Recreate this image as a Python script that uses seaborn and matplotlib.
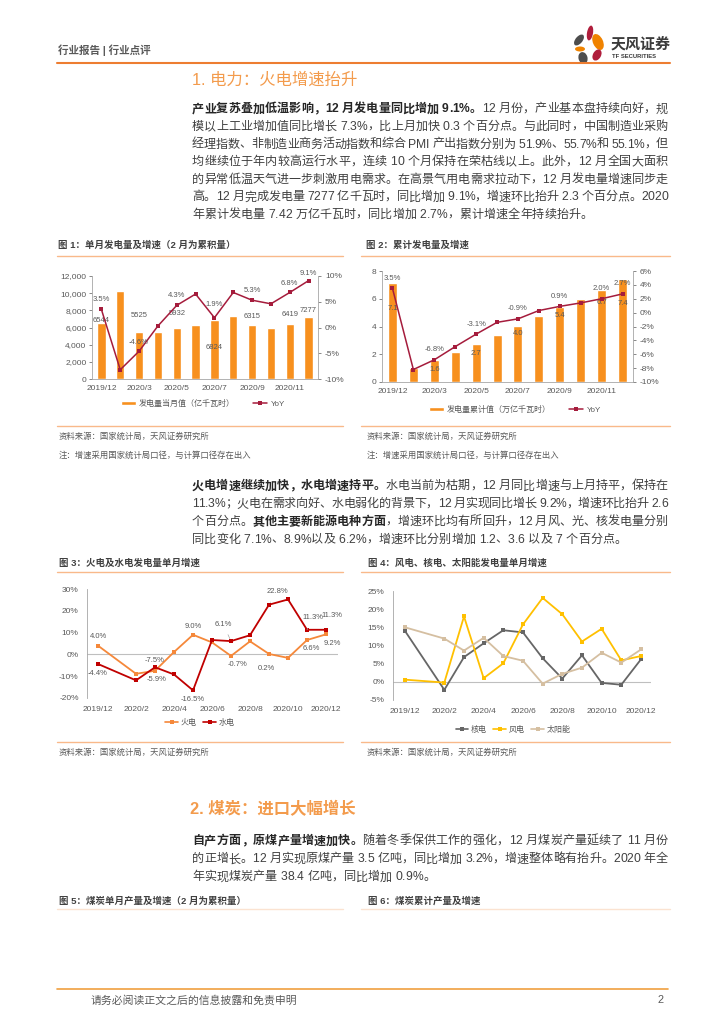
import matplotlib
matplotlib.use('Agg')
import matplotlib.pyplot as plt
from matplotlib.patches import Patch, Ellipse
from matplotlib.lines import Line2D
from matplotlib.font_manager import FontProperties
import numpy as np
import pandas as pd
import seaborn as sns

# ---------------- data ----------------
months_a = ['2019/12', '2020/2', '2020/3', '2020/4', '2020/5', '2020/6',
            '2020/7', '2020/8', '2020/9', '2020/10', '2020/11', '2020/12']
gen_month = [6544, 10302, 5525, 5501, 5932, 6259, 6824, 7294, 6315, 5976, 6419, 7277]
gen_month_yoy = [3.5, -8.2, -4.6, 0.3, 4.3, 6.5, 1.9, 6.8, 5.3, 4.6, 6.8, 9.1]
gen_cum = [7.14, 1.03, 1.58, 2.13, 2.73, 3.36, 4.04, 4.77, 5.41, 6.01, 6.66, 7.42]
gen_cum_yoy = [3.5, -8.2, -6.8, -4.9, -3.1, -1.4, -0.9, 0.3, 0.9, 1.4, 2.0, 2.7]
ticks_a = ['2019/12', '2020/3', '2020/5', '2020/7', '2020/9', '2020/11']

thermal = [4.0, -8.9, -7.5, 1.1, 9.0, 5.5, -0.7, 6.0, 0.2, -1.6, 6.6, 9.2]
hydro = [-4.4, -11.9, -5.9, -9.2, -16.5, 6.6, 6.1, 8.8, 22.8, 25.2, 11.3, 11.3]
nuclear = [14.0, -2.2, 6.8, 10.6, 14.2, 13.6, 6.5, 0.9, 7.3, -0.3, -0.8, 6.2]
wind = [0.6, -0.2, 18.0, 1.0, 5.1, 15.8, 23.1, 18.6, 11.1, 14.6, 5.9, 7.1]
solar = [15.0, 11.9, 8.6, 12.1, 7.1, 5.8, -0.5, 2.2, 3.9, 8.0, 5.3, 8.9]
ticks_b = ['2019/12', '2020/2', '2020/4', '2020/6', '2020/8', '2020/10', '2020/12']

# ---------------- style ----------------
W, H = 724, 1024
FAM = ['Liberation Sans', 'Noto Sans CJK SC', 'DejaVu Sans']
sns.set_style('white')
plt.rcParams['font.family'] = FAM
plt.rcParams['axes.unicode_minus'] = False

BAR = '#F7901E'
RED = '#A51C3C'
THERMAL = '#F5883A'
HYDRO = '#C00000'
GRAY = '#595959'
SPINE = '#A6A6A6'
LINE_OR = '#F9B98A'

fig = plt.figure(figsize=(7.24, 10.24), dpi=100)
renderer = fig.canvas.get_renderer()


def add_ax(x0, y0, x1, y1):
    return fig.add_axes([x0 / W, 1 - y1 / H, (x1 - x0) / W, (y1 - y0) / H])


def ftext(x, y, s, **kw):
    kw.setdefault('va', 'center')
    return fig.text(x / W, 1 - y / H, s, **kw)


def hline(x0, x1, y, color, lw=1.0):
    fig.add_artist(Line2D([x0 / W, x1 / W], [1 - y / H, 1 - y / H], color=color, lw=lw))


_adv = {}


def adv(ch, fp):
    key = (ch, fp.get_weight(), fp.get_size())
    if key not in _adv:
        w1 = renderer.get_text_width_height_descent('H' + ch + 'H', fp, ismath=False)[0]
        w0 = renderer.get_text_width_height_descent('HH', fp, ismath=False)[0]
        _adv[key] = w1 - w0
    return _adv[key]


def draw_line(x0, y, runs, right=None, size=8.7):
    fps = {False: FontProperties(family=FAM, size=size),
           True: FontProperties(family=FAM, size=size, weight='bold')}
    items = [(ch, b) for txt, b in runs for ch in txt]
    advs = [adv(ch, fps[b]) for ch, b in items]
    gap = 0
    if right is not None and len(items) > 1:
        gap = (right - x0 - sum(advs)) / (len(items) - 1)
    x = x0
    yb = 1 - (y + 4.3) / H
    for (ch, b), a in zip(items, advs):
        col = '#262626' if b else '#404040'
        if ch != ' ':
            if ch in '，。、；：':
                fig.text(x / W, yb, ch, fontproperties=fps[b], color=col, ha='left', va='baseline')
            else:
                fig.text((x + a / 2) / W, yb, ch, fontproperties=fps[b], color=col,
                         ha='center', va='baseline')
        x += a + gap


def draw_par(x0, y0, step, lines, right=668):
    for k, runs in enumerate(lines):
        last = k == len(lines) - 1
        draw_line(x0, y0 + k * step, runs, None if last else right)


def month_pos(m):
    return (int(m[:4]) - 2019) * 12 + int(m[5:]) - 12


def style_ax(ax, left=True, right=False, bottom=True):
    for s in ax.spines.values():
        s.set_visible(False)
    for name, on in (('left', left), ('right', right), ('bottom', bottom)):
        if on:
            ax.spines[name].set_visible(True)
            ax.spines[name].set_color(SPINE)
            ax.spines[name].set_linewidth(0.6)
    ax.tick_params(axis='both', labelsize=6, colors=GRAY, length=2, width=0.5, pad=2)
    ax.tick_params(axis='x', length=0, pad=4)
    ax.set_xlabel('')
    ax.set_ylabel('')
    ax.set_facecolor('none')


# ---------------- header ----------------
ftext(58, 50, '行业报告 | 行业点评', fontsize=7.6, color=GRAY, fontweight='bold')
hline(57, 670, 63, '#ED7D31', 1.5)
logo = add_ax(570, 25, 608, 65)
logo.set_xlim(570, 608)
logo.set_ylim(65, 25)
logo.axis('off')
for cx, cy, w, h, ang, c in [(590, 33, 6, 15, 10, '#B01E3C'), (579, 40, 7, 13, 40, '#4D4D4D'),
                             (598, 42, 10, 17, -25, '#F08300'), (580, 49, 10, 5, 0, '#F08300'),
                             (597, 55, 8, 12, 30, '#B01E3C'), (583, 58, 9, 12, -15, '#4D4D4D')]:
    logo.add_patch(Ellipse((cx, cy), w, h, angle=ang, color=c, lw=0))
ftext(611, 44, '天风证券', fontsize=10.8, fontweight='bold', color='#3A3A3A')
ftext(612, 57, 'TF SECURITIES', fontsize=4.2, fontweight='bold', color='#3A3A3A')

# ---------------- section 1 text ----------------
ftext(192, 80, '1. 电力：火电增速抬升', fontsize=11.8, color='#F39B4C')
par1 = [
    [('产业复苏叠加低温影响，12 月发电量同比增加 9.1%。', True), ('12 月份，产业基本盘持续向好，规', False)],
    [('模以上工业增加值同比增长 7.3%，比上月加快 0.3 个百分点。与此同时，中国制造业采购', False)],
    [('经理指数、非制造业商务活动指数和综合 PMI 产出指数分别为 51.9%、55.7%和 55.1%，但', False)],
    [('均继续位于年内较高运行水平，连续 10 个月保持在荣枯线以上。此外，12 月全国大面积', False)],
    [('的异常低温天气进一步刺激用电需求。在高景气用电需求拉动下，12 月发电量增速同步走', False)],
    [('高。12 月完成发电量 7277 亿千瓦时，同比增加 9.1%，增速环比抬升 2.3 个百分点。2020', False)],
    [('年累计发电量 7.42 万亿千瓦时，同比增加 2.7%，累计增速全年持续抬升。', False)],
]
draw_par(192, 108, 17.6, par1)

# figure titles
TITLE_KW = dict(fontsize=6.8, fontweight='bold', color='#404040')
ftext(58, 245, '图 1：单月发电量及增速（2 月为累积量）', **TITLE_KW)
ftext(366, 245, '图 2：累计发电量及增速', **TITLE_KW)
hline(57, 343, 256, LINE_OR)
hline(361, 670, 256, LINE_OR)

# ---------------- chart 1 ----------------
df1 = pd.DataFrame({'month': months_a, 'gen': gen_month, 'yoy': gen_month_yoy})
ax1 = add_ax(92, 276, 318, 379)
sns.barplot(data=df1, x='month', y='gen', color=BAR, saturation=1, width=0.45,
            errorbar=None, ax=ax1)
ax1.set_xlim(-0.5, 11.5)
ax1.set_ylim(0, 12000)
ax1.set_yticks(range(0, 12001, 2000))
ax1.set_yticklabels([f'{v:,}' for v in range(0, 12001, 2000)])
ax1.set_xticks([months_a.index(t) for t in ticks_a])
ax1.set_xticklabels(ticks_a)
style_ax(ax1)
ax1r = ax1.twinx()
sns.lineplot(x=np.arange(len(months_a)), y=df1['yoy'], ax=ax1r, color=RED, marker='s',
             markersize=3.3, markeredgewidth=0, linewidth=1.1)
ax1r.set_ylim(-10, 10)
ax1r.set_yticks(range(-10, 11, 5))
ax1r.set_yticklabels([f'{v}%' for v in range(-10, 11, 5)])
ax1r.set_xlim(-0.5, 11.5)
style_ax(ax1r, left=False, right=True, bottom=False)
ax1r.tick_params(axis='y', pad=3)

bar_off1 = {0: 2, 2: 16, 4: 15, 6: -27, 8: 8, 10: 9, 11: 6}
for i, dy in bar_off1.items():
    ax1.annotate(f'{gen_month[i]}', (i, gen_month[i]), xytext=(0, dy), textcoords='offset pixels',
                 ha='center', va='center', fontsize=5.5, color=GRAY)
yoy_off1 = {0: 10, 2: 9, 4: 10, 6: 13, 8: 10, 10: 9, 11: 7}
for i, dy in yoy_off1.items():
    ax1r.annotate(f'{gen_month_yoy[i]:.1f}%', (i, gen_month_yoy[i]), xytext=(0, dy),
                  textcoords='offset pixels', ha='center', va='center', fontsize=5.5, color=GRAY)

fig.legend(handles=[Patch(fc=BAR, label='发电量当月值（亿千瓦时）'),
                    Line2D([], [], color=RED, marker='s', ms=3, mew=0, lw=1.1, label='YoY')],
           loc='center', bbox_to_anchor=(203 / W, 1 - 404 / H), ncol=2, frameon=False,
           fontsize=5.8, handlelength=1.8, handleheight=0.5, columnspacing=2.2,
           handletextpad=0.4, labelcolor=GRAY)

# ---------------- chart 2 ----------------
df2 = pd.DataFrame({'month': months_a, 'cum': gen_cum, 'yoy': gen_cum_yoy})
ax2 = add_ax(382, 271, 633, 382)
sns.barplot(data=df2, x='month', y='cum', color=BAR, saturation=1, width=0.43,
            errorbar=None, ax=ax2)
ax2.set_xlim(-0.5, 11.5)
ax2.set_ylim(0, 8)
ax2.set_yticks(range(0, 9, 2))
ax2.set_xticks([months_a.index(t) for t in ticks_a])
ax2.set_xticklabels(ticks_a)
style_ax(ax2)
ax2r = ax2.twinx()
sns.lineplot(x=np.arange(len(months_a)), y=df2['yoy'], ax=ax2r, color=RED, marker='s',
             markersize=3.3, markeredgewidth=0, linewidth=1.1)
ax2r.set_ylim(-10, 6)
ax2r.set_yticks(range(-10, 7, 2))
ax2r.set_yticklabels([f'{v}%' for v in range(-10, 7, 2)])
ax2r.set_xlim(-0.5, 11.5)
style_ax(ax2r, left=False, right=True, bottom=False)
ax2r.tick_params(axis='y', pad=3)

bar_off2 = {0: -26, 2: -9, 4: -9.5, 6: -7.5, 8: -9, 10: -13, 11: -24}
for i, dy in bar_off2.items():
    ax2.annotate(f'{gen_cum[i]:.1f}', (i, gen_cum[i]), xytext=(0, dy), textcoords='offset pixels',
                 ha='center', va='center', fontsize=5.5, color=GRAY)
for i in (0, 2, 4, 6, 8, 10, 11):
    ax2r.annotate(f'{gen_cum_yoy[i]:.1f}%', (i, gen_cum_yoy[i]), xytext=(0, 10),
                  textcoords='offset pixels', ha='center', va='center', fontsize=5.5, color=GRAY)

fig.legend(handles=[Patch(fc=BAR, label='发电量累计值（万亿千瓦时）'),
                    Line2D([], [], color=RED, marker='s', ms=3, mew=0, lw=1.1, label='YoY')],
           loc='center', bbox_to_anchor=(515 / W, 1 - 410 / H), ncol=2, frameon=False,
           fontsize=5.8, handlelength=1.8, handleheight=0.5, columnspacing=2.2,
           handletextpad=0.4, labelcolor=GRAY)

# sources
SRC_KW = dict(fontsize=6, color=GRAY)
hline(57, 343, 426, LINE_OR)
hline(361, 670, 426, LINE_OR)
for x in (59, 367):
    ftext(x, 437, '资料来源：国家统计局，天风证券研究所', **SRC_KW)
    ftext(x, 456, '注：增速采用国家统计局口径，与计算口径存在出入', **SRC_KW)

# ---------------- paragraph 2 ----------------
par2 = [
    [('火电增速继续加快，水电增速持平。', True), ('水电当前为枯期，12 月同比增速与上月持平，保持在', False)],
    [('11.3%；火电在需求向好、水电弱化的背景下，12 月实现同比增长 9.2%，增速环比抬升 2.6', False)],
    [('个百分点。', False), ('其他主要新能源电种方面', True), ('，增速环比均有所回升，12 月风、光、核发电量分别', False)],
    [('同比变化 7.1%、8.9%以及 6.2%，增速环比分别增加 1.2、3.6 以及 7 个百分点。', False)],
]
draw_par(192, 485, 17.8, par2)

ftext(59, 563, '图 3：火电及水电发电量单月增速', **TITLE_KW)
ftext(368, 563, '图 4：风电、核电、太阳能发电量单月增速', **TITLE_KW)
hline(57, 343, 572, LINE_OR)
hline(361, 670, 572, LINE_OR)

pos_b = [month_pos(m) for m in months_a]

# ---------------- chart 3 ----------------
df3 = pd.DataFrame({'pos': pos_b * 2, 'val': thermal + hydro,
                    'series': ['火电'] * len(pos_b) + ['水电'] * len(pos_b)})
ax3 = add_ax(87, 589, 338, 698)
sns.lineplot(data=df3, x='pos', y='val', hue='series', palette={'火电': THERMAL, '水电': HYDRO},
             marker='s', markersize=3.5, markeredgewidth=0, linewidth=1.3, legend=False, ax=ax3)
ax3.axhline(0, color='#BFBFBF', lw=0.8, zorder=0)
ax3.set_xlim(-0.58, 12.63)
ax3.set_ylim(-20, 30)
ax3.set_yticks(range(-20, 31, 10))
ax3.set_yticklabels([f'{v}%' for v in range(-20, 31, 10)])
ax3.set_xticks([month_pos(t) for t in ticks_b])
ax3.set_xticklabels(ticks_b)
style_ax(ax3, bottom=False)
ax3.tick_params(axis='y', pad=4)
ax3.tick_params(axis='x', pad=6)

lab3 = [(thermal, 0, 0, 9, False), (thermal, 2, 0, 10, False), (thermal, 4, 0, 8, False),
        (thermal, 6, 7, -9, False), (thermal, 8, -3, -15, False), (thermal, 10, 4, -8, False),
        (thermal, 11, 6, -9, False),
        (hydro, 0, 0, -10, False), (hydro, 2, 2, -12, False), (hydro, 4, 0, -9, False),
        (hydro, 6, -8, 17, True), (hydro, 8, 8, 13, True), (hydro, 10, 6, 12, True),
        (hydro, 11, 6, 14, False)]
for ser, i, dx, dy, lead in lab3:
    ap = dict(arrowstyle='-', color='#A6A6A6', lw=0.5, shrinkA=3, shrinkB=2) if lead else None
    ax3.annotate(f'{ser[i]:.1f}%', (pos_b[i], ser[i]), xytext=(dx, dy), textcoords='offset pixels',
                 ha='center', va='center', fontsize=5.5, color=GRAY, arrowprops=ap)

fig.legend(handles=[Line2D([], [], color=THERMAL, marker='s', ms=3, mew=0, lw=1.2, label='火电'),
                    Line2D([], [], color=HYDRO, marker='s', ms=3, mew=0, lw=1.2, label='水电')],
           loc='center', bbox_to_anchor=(200 / W, 1 - 723 / H), ncol=2, frameon=False,
           fontsize=5.8, handlelength=1.6, columnspacing=0.8, handletextpad=0.3, labelcolor=GRAY)

# ---------------- chart 4 ----------------
NUC, WIND, SOLAR = '#666666', '#FFC000', '#D5BFA1'
df4 = pd.DataFrame({'pos': pos_b * 3, 'val': nuclear + wind + solar,
                    'series': ['核电'] * 12 + ['风电'] * 12 + ['太阳能'] * 12})
ax4 = add_ax(393, 591, 651, 700)
sns.lineplot(data=df4, x='pos', y='val', hue='series',
             palette={'核电': NUC, '风电': WIND, '太阳能': SOLAR},
             marker='s', markersize=3.5, markeredgewidth=0, linewidth=1.3, legend=False, ax=ax4)
ax4.axhline(0, color='#BFBFBF', lw=0.8, zorder=0)
ax4.set_xlim(-0.61, 12.51)
ax4.set_ylim(-5, 25)
ax4.set_yticks(range(-5, 26, 5))
ax4.set_yticklabels([f'{v}%' for v in range(-5, 26, 5)])
ax4.set_xticks([month_pos(t) for t in ticks_b])
ax4.set_xticklabels(ticks_b)
style_ax(ax4, bottom=False)
ax4.tick_params(axis='y', pad=4)
ax4.tick_params(axis='x', pad=6)

fig.legend(handles=[Line2D([], [], color=c, marker='s', ms=3, mew=0, lw=1.2, label=l)
                    for c, l in ((NUC, '核电'), (WIND, '风电'), (SOLAR, '太阳能'))],
           loc='center', bbox_to_anchor=(513 / W, 1 - 730 / H), ncol=3, frameon=False,
           fontsize=5.8, handlelength=1.6, columnspacing=0.8, handletextpad=0.3, labelcolor=GRAY)

hline(57, 343, 742, LINE_OR)
hline(361, 670, 742, LINE_OR)
ftext(59, 753, '资料来源：国家统计局，天风证券研究所', **SRC_KW)
ftext(367, 753, '资料来源：国家统计局，天风证券研究所', **SRC_KW)

# ---------------- section 2 ----------------
ftext(190, 809, '2. 煤炭：进口大幅增长', fontsize=11.8, color='#F39B4C', fontweight='bold')
par3 = [
    [('自产方面，原煤产量增速加快。', True), ('随着冬季保供工作的强化，12 月煤炭产量延续了 11 月份', False)],
    [('的正增长。12 月实现原煤产量 3.5 亿吨，同比增加 3.2%，增速整体略有抬升。2020 年全', False)],
    [('年实现煤炭产量 38.4 亿吨，同比增加 0.9%。', False)],
]
draw_par(192, 840, 18, par3)

ftext(59, 901, '图 5：煤炭单月产量及增速（2 月为累积量）', **TITLE_KW)
ftext(368, 901, '图 6：煤炭累计产量及增速', **TITLE_KW)
hline(57, 343, 909, '#FBE3D1')
hline(361, 670, 909, '#FBE3D1')

# ---------------- footer ----------------
hline(57, 668, 989, '#F0A040', 1.2)
ftext(91, 1000, '请务必阅读正文之后的信息披露和免责申明', fontsize=7.8, color=GRAY)
ftext(660, 1000, '2', fontsize=7.8, color=GRAY, ha='center')

fig.savefig('out.png', dpi=100, facecolor='white')
